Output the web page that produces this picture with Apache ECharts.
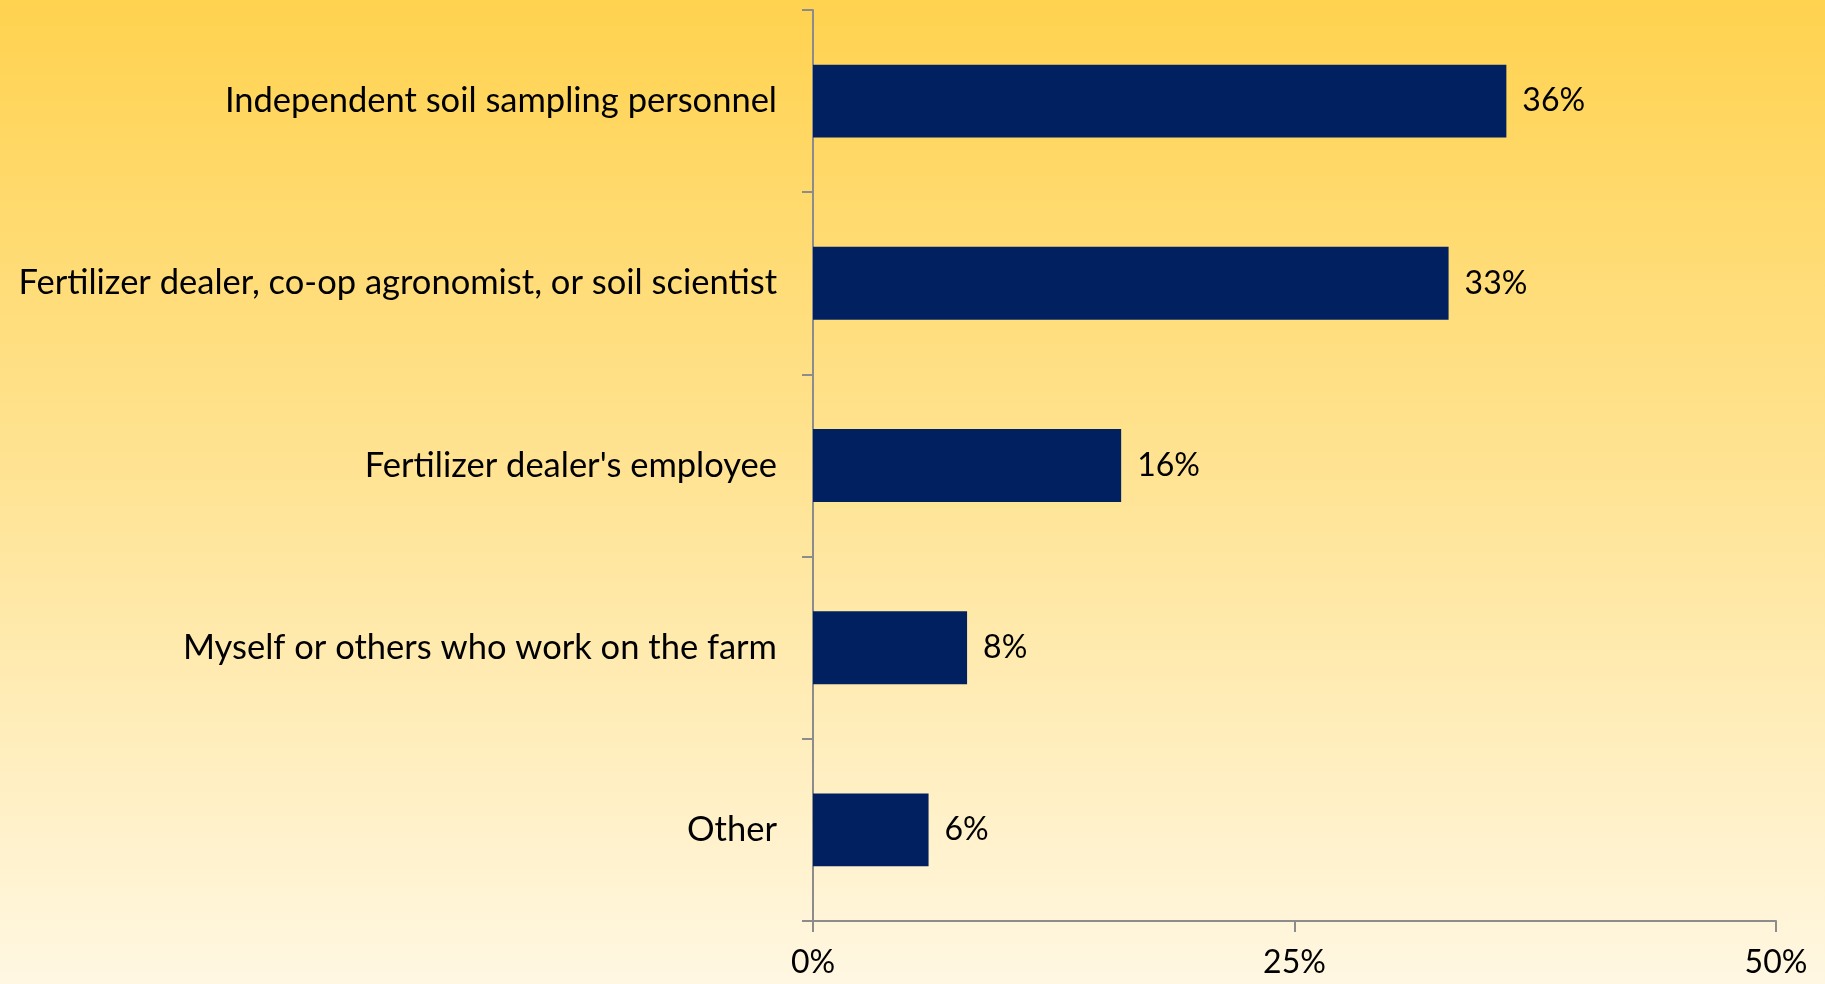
<!DOCTYPE html>
<html>
<head>
<meta charset="utf-8">
<script src="https://cdn.jsdelivr.net/npm/echarts@6/dist/echarts.min.js"></script>
<style>
  html, body { margin: 0; padding: 0; width: 1825px; height: 984px; overflow: hidden; }
  #chart { width: 1825px; height: 984px; }
</style>
</head>
<body>
<div id="chart"></div>
<script>
// Who collects the soil samples (share of respondents, %)
const categories = [
  'Independent soil sampling personnel',
  'Fertilizer dealer, co-op agronomist, or soil scientist',
  "Fertilizer dealer's employee",
  'Myself or others who work on the farm',
  'Other'
];
const shares = [36, 33, 16, 8, 6];
const axisTicks = [0, 25, 50];

const FONT = 'Lato, "Open Sans", sans-serif';
const chart = echarts.init(document.getElementById('chart'));

chart.setOption({
  backgroundColor: new echarts.graphic.LinearGradient(0, 0, 0, 1, [
    { offset: 0, color: '#FFD24F' },
    { offset: 0.5, color: '#FFE496' },
    { offset: 1, color: '#FFF7E2' }
  ]),
  animation: false,
  grid: { left: 813, right: 49, top: 10, bottom: 63, containLabel: false },
  xAxis: {
    type: 'value',
    min: axisTicks[0],
    max: axisTicks[axisTicks.length - 1],
    interval: axisTicks[1] - axisTicks[0],
    axisLine: { show: true, lineStyle: { color: '#8C8C8C', width: 2 } },
    axisTick: { show: true, length: 11, lineStyle: { color: '#8C8C8C', width: 2 } },
    splitLine: { show: false },
    axisLabel: {
      margin: 26,
      color: '#000',
      fontFamily: FONT,
      fontSize: 32,
      formatter: v => v + '%'
    }
  },
  yAxis: {
    type: 'category',
    inverse: true,
    data: categories,
    axisLine: { show: true, lineStyle: { color: '#8C8C8C', width: 2 } },
    axisTick: { show: true, length: 11, alignWithLabel: false, lineStyle: { color: '#8C8C8C', width: 2 } },
    axisLabel: {
      margin: 36,
      color: '#000',
      fontFamily: FONT,
      fontSize: 34.5
    }
  },
  series: [{
    type: 'bar',
    data: shares,
    barCategoryGap: '60%',
    itemStyle: { color: '#002060' },
    label: {
      show: true,
      position: 'right',
      distance: 16,
      color: '#000',
      fontFamily: FONT,
      fontSize: 32,
      formatter: p => p.value + '%'
    }
  }]
});
</script>
</body>
</html>
